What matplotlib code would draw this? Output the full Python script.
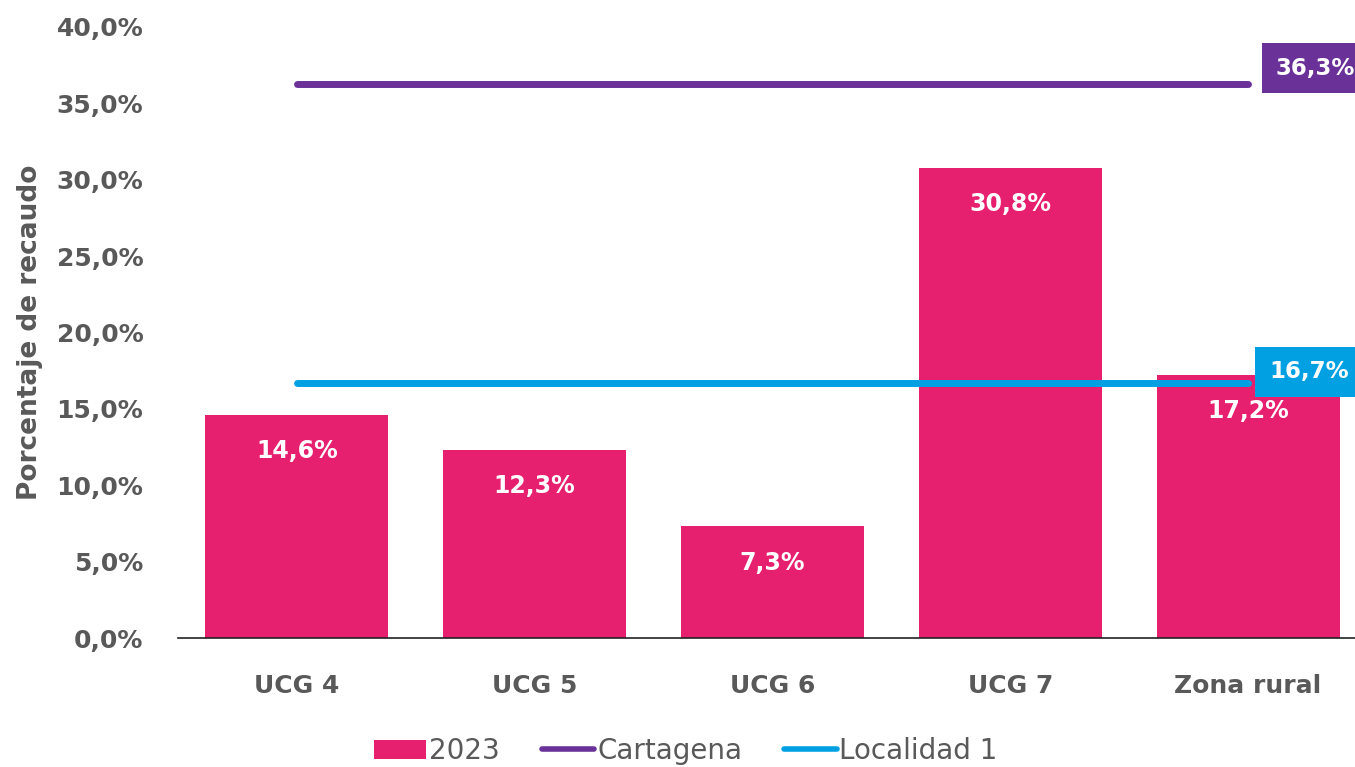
import matplotlib.pyplot as plt
from matplotlib.lines import Line2D
from matplotlib.patches import Patch
from matplotlib.ticker import FuncFormatter

categories = ["UCG 4", "UCG 5", "UCG 6", "UCG 7", "Zona rural"]
recaudo_2023 = [14.6, 12.3, 7.3, 30.8, 17.2]
cartagena = 36.3
localidad = 16.7
yticks = [0, 5, 10, 15, 20, 25, 30, 35, 40]

PINK = "#E61F6F"
PURPLE = "#6A3299"
BLUE = "#00A0E3"
GRAY = "#595959"

plt.rcParams["font.family"] = ["DejaVu Sans"]


def pct(v, _=None):
    return f"{v:.1f}%".replace(".", ",")


fig = plt.figure(figsize=(13.55, 7.67), dpi=100)
ax = fig.add_axes([178 / 1355, 1 - 638 / 767, 1189 / 1355, (638 - 27) / 767])

x = list(range(len(categories)))
ax.bar(x, recaudo_2023, width=0.77, color=PINK, zorder=2)

for xi, v in zip(x, recaudo_2023):
    ax.annotate(pct(v), (xi, v), xytext=(0, -26), textcoords="offset points",
                ha="center", va="center", color="white", fontsize=17,
                fontweight="bold", zorder=3)

# reference lines from first to last category
ax.plot([x[0], x[-1]], [cartagena, cartagena], color=PURPLE, lw=5,
        solid_capstyle="round", zorder=4)
ax.plot([x[0], x[-1]], [localidad, localidad], color=BLUE, lw=5,
        solid_capstyle="round", zorder=4)

ax.annotate(pct(cartagena), (x[-1], cartagena), xytext=(20, 11),
            textcoords="offset points", ha="left", va="center",
            color="white", fontsize=16.5, fontweight="bold", zorder=5,
            bbox=dict(boxstyle="square,pad=0.6", fc=PURPLE, ec="none"),
            annotation_clip=False)
ax.annotate(pct(localidad), (x[-1], localidad), xytext=(15, 8),
            textcoords="offset points", ha="left", va="center",
            color="white", fontsize=16.5, fontweight="bold", zorder=5,
            bbox=dict(boxstyle="square,pad=0.6", fc=BLUE, ec="none"),
            annotation_clip=False)

ax.set_xlim(-0.5, 4.5)
ax.set_ylim(0, 40)
ax.set_yticks(yticks)
ax.yaxis.set_major_formatter(FuncFormatter(pct))
ax.set_xticks(x)
ax.set_xticklabels(categories)
ax.tick_params(axis="both", length=0, labelsize=18, labelcolor=GRAY)
ax.tick_params(axis="x", pad=26)
ax.tick_params(axis="y", pad=25)
for lbl in ax.get_xticklabels() + ax.get_yticklabels():
    lbl.set_fontweight("bold")

for side in ["top", "right", "left"]:
    ax.spines[side].set_visible(False)
ax.spines["bottom"].set_color("#222222")
ax.spines["bottom"].set_linewidth(1.2)

ax.set_ylabel("Porcentaje de recaudo", fontsize=19, fontweight="bold",
              color=GRAY, labelpad=10)

handles = [
    Patch(facecolor=PINK, edgecolor="none"),
    Line2D([0], [0], color=PURPLE, lw=4, solid_capstyle="round"),
    Line2D([0], [0], color=BLUE, lw=4, solid_capstyle="round"),
]
fig.legend(handles, ["2023", "Cartagena", "Localidad 1"], loc="lower center",
           bbox_to_anchor=(0.506, -0.03), ncol=3, frameon=False,
           fontsize=20, labelcolor=GRAY, handlelength=1.9, handleheight=0.65,
           handletextpad=0.1, columnspacing=1.5)

fig.savefig("out.png", dpi=100)
